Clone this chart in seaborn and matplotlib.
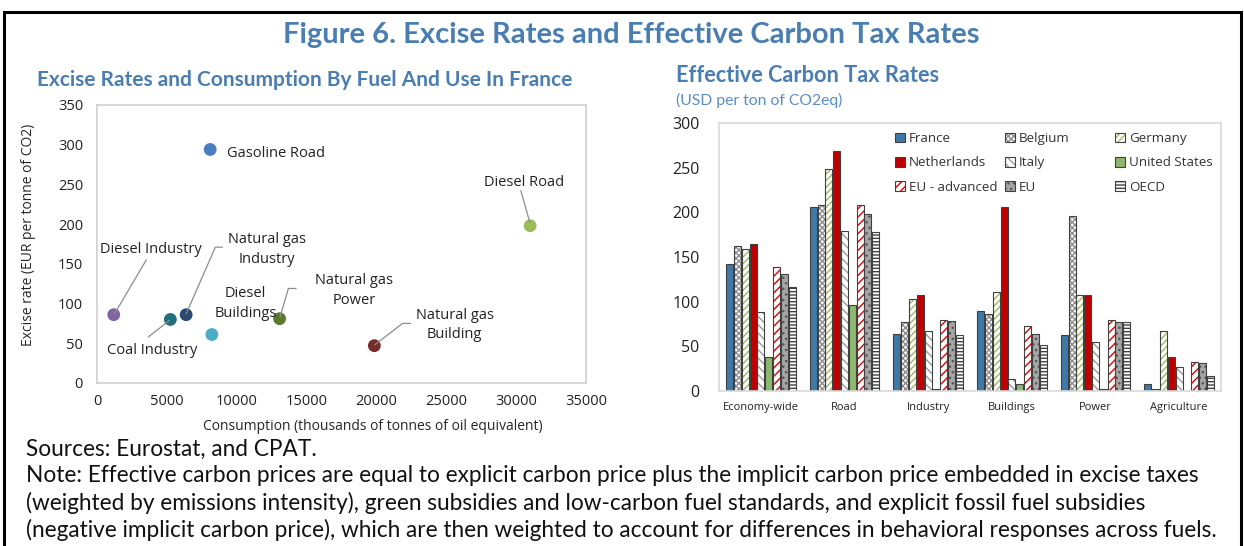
import matplotlib
matplotlib.use("Agg")
import matplotlib.pyplot as plt
from matplotlib.patches import Rectangle, Patch
from matplotlib.legend_handler import HandlerTuple
import seaborn as sns
import pandas as pd

# ---------------- data ----------------
fuels = ["Gasoline Road", "Diesel Road", "Diesel Industry", "Coal Industry",
         "Natural gas Industry", "Natural gas Power", "Diesel Buildings",
         "Natural gas Building"]
consumption = [8100, 31000, 1200, 5250, 6380, 8220, 13070, 19850]
excise = [294, 198, 86, 80, 86, 61, 81, 47]
fuel_colors = ["#4A7CC0", "#9BBB59", "#8064A2", "#20707C", "#2B4A73",
               "#4BACC6", "#5A7A2C", "#772B2A"]

sectors = ["Economy-wide", "Road", "Industry", "Buildings", "Power", "Agriculture"]
countries = ["France", "Belgium", "Germany", "Netherlands", "Italy",
             "United States", "EU - advanced", "EU", "OECD"]
france = [142, 206, 64, 90, 63, 8]
belgium = [162, 208, 77, 86, 196, 2]
germany = [159, 248, 103, 111, 107, 67]
netherlands = [165, 269, 107, 206, 107, 38]
italy = [88, 179, 67, 13, 55, 27]
united_states = [38, 96, 2, 8, 2, 0.5]
eu_advanced = [139, 208, 80, 73, 80, 33]
eu = [131, 198, 78, 64, 77, 31]
oecd = [116, 178, 63, 52, 77, 17]
series = [france, belgium, germany, netherlands, italy, united_states,
          eu_advanced, eu, oecd]

# ---------------- style ----------------
sns.set_style("white")
plt.rcParams["font.family"] = ["Lato", "DejaVu Sans"]
plt.rcParams["hatch.linewidth"] = 1.0
TITLE_C = "#4A7DB1"
SUB_C = "#5B8DC4"
DARK = "#404040"
OPEN = ["Open Sans", "DejaVu Sans"]

fig = plt.figure(figsize=(12.44, 5.46), dpi=100)

# ---------------- left scatter ----------------
axL = fig.add_axes([97/1244, 1-383/546, 489/1244, 278/546])
sdf = pd.DataFrame({"fuel": fuels, "cons": consumption, "rate": excise})
sns.scatterplot(data=sdf, x="cons", y="rate", hue="fuel", hue_order=fuels,
                palette=fuel_colors, s=85, linewidth=0, legend=False, ax=axL)
axL.set_xlim(0, 35000)
axL.set_ylim(0, 350)
axL.set_xticks(range(0, 35001, 5000))
axL.set_yticks(range(0, 351, 50))
for sp in axL.spines.values():
    sp.set_color("#D0D0D0")
    sp.set_linewidth(1.2)
axL.tick_params(axis="x", direction="in", length=4, color="#D0D0D0",
                labelsize=10.5, pad=8, labelcolor="#222222")
axL.tick_params(axis="y", length=0, labelsize=10.5, pad=10, labelcolor="#222222")
for t in axL.get_xticklabels() + axL.get_yticklabels():
    t.set_fontfamily(OPEN)
axL.set_xlabel("Consumption (thousands of tonnes of oil equivalent)",
               fontsize=10, family=OPEN, labelpad=2)
axL.xaxis.set_label_coords(0.565, -0.13)
axL.set_ylabel("Excise rate (EUR per tonne of CO2)", fontsize=10,
               family=OPEN, labelpad=4)
axL.yaxis.set_label_coords(-0.125, 0.532)

lab_kw = dict(fontsize=10.5, family=OPEN, color="#222222", linespacing=1.45)
# (text, x, y, ha)
labels = [
    ("Gasoline Road", 9300, 289, "left"),
    ("Diesel Road", 30570, 253, "center"),
    ("Diesel Industry", 3870, 168, "center"),
    ("Natural gas\nIndustry", 12150, 168, "center"),
    ("Diesel\nBuildings", 10650, 100, "center"),
    ("Natural gas\nPower", 18400, 117, "center"),
    ("Natural gas\nBuilding", 25600, 73, "center"),
    ("Coal Industry", 3950, 41, "center"),
]
for txt, x, y, ha in labels:
    axL.text(x, y, txt, ha=ha, va="center", **lab_kw)

leaders = [
    ([3530, 1250], [155, 87]),
    ([8980, 8470, 6380], [171, 171, 87]),
    ([3670, 5200], [58, 79]),
    ([14250, 13700, 13100], [119, 119, 83]),
    ([30340, 30980], [242, 202]),
    ([22450, 21870, 19880], [75, 75, 48]),
]
for xs, ys in leaders:
    axL.plot(xs, ys, color="#8C8C8C", lw=0.9, zorder=1)

# ---------------- right bars ----------------
axR = fig.add_axes([719/1244, 1-391/546, 502/1244, 268/546])
rows = []
for c, vals in zip(countries, series):
    for s, v in zip(sectors, vals):
        rows.append({"sector": s, "country": c, "rate": v})
bdf = pd.DataFrame(rows)
sns.barplot(data=bdf, x="sector", y="rate", hue="country", order=sectors,
            hue_order=countries, width=0.84, gap=0.1, legend=False, ax=axR)

styles = {
    "France": dict(fc="#3F79A6", hc=None, hatch=None),
    "Belgium": dict(fc="white", hc="#8C8C8C", hatch="xxxxxx"),
    "Germany": dict(fc="white", hc="#9BBB59", hatch="/////"),
    "Netherlands": dict(fc="#C00000", hc=None, hatch=None),
    "Italy": dict(fc="white", hc="#9A9A9A", hatch="\\\\\\\\"),
    "United States": dict(fc="#8DB86E", hc=None, hatch=None),
    "EU - advanced": dict(fc="white", hc="#E00000", hatch="////"),
    "EU": dict(fc="#A6A6A6", hc="#555555", hatch="..."),
    "OECD": dict(fc="white", hc="#404040", hatch="-----"),
}
for cont, c in zip(axR.containers, countries):
    st = styles[c]
    for p in cont.patches:
        if st["hatch"]:
            p.set_facecolor(st["fc"])
            p.set_edgecolor(st["hc"])
            p.set_hatch(st["hatch"])
            p.set_linewidth(0)
            axR.add_patch(Rectangle(p.get_xy(), p.get_width(), p.get_height(),
                                    fill=False, ec=DARK, lw=0.8, zorder=p.get_zorder()))
        else:
            p.set_facecolor(st["fc"])
            p.set_edgecolor(DARK)
            p.set_linewidth(0.8)

axR.set_ylim(0, 300)
axR.set_xlim(-0.5, 5.5)
axR.set_yticks(range(0, 301, 50))
axR.set_xlabel("")
axR.set_ylabel("")
for sp in axR.spines.values():
    sp.set_color("#D9D9D9")
    sp.set_linewidth(1.2)
axR.tick_params(axis="y", length=0, labelsize=11.5, pad=14, labelcolor="#222222")
axR.tick_params(axis="x", length=0, labelsize=8, pad=8, labelcolor="#222222")
axR.set_xticks(range(6), sectors)
for t in axR.get_xticklabels() + axR.get_yticklabels():
    t.set_fontfamily(OPEN)
axR.set_xticks([i + 0.5 for i in range(5)], minor=True)
axR.tick_params(axis="x", which="minor", direction="in", length=4, color="#D0D0D0")

handles = []
for c in countries:
    st = styles[c]
    if st["hatch"]:
        h = (Patch(facecolor=st["fc"], edgecolor=st["hc"], hatch=st["hatch"], lw=0),
             Patch(fill=False, edgecolor=DARK, lw=0.8))
    else:
        h = Patch(facecolor=st["fc"], edgecolor=DARK, lw=0.8)
    handles.append(h)

# three legend columns at fixed positions (row-major order in the reference)
col_x = [(895 - 719) / 502, (1005 - 719) / 502, (1115 - 719) / 502]
legs = []
for k in range(3):
    idx = [k, k + 3, k + 6]
    leg = axR.legend([handles[i] for i in idx], [countries[i] for i in idx],
                     ncol=1, loc="upper left", bbox_to_anchor=(col_x[k], 0.966),
                     frameon=False, handlelength=0.75, handleheight=0.75,
                     handletextpad=0.3, labelspacing=0.85, borderpad=0,
                     borderaxespad=0,
                     prop={"family": OPEN, "size": 9.6},
                     handler_map={tuple: HandlerTuple(ndivide=1)})
    for t in leg.get_texts():
        t.set_color("#333333")
    legs.append(leg)
for leg in legs[:-1]:
    axR.add_artist(leg)

# ---------------- titles & notes ----------------
fig.text(631/1244, 1-35/546, "Figure 6. Excise Rates and Effective Carbon Tax Rates",
         ha="center", va="center", fontsize=21, fontweight="bold", color=TITLE_C)
fig.text(305/1244, 1-80/546, "Excise Rates and Consumption By Fuel And Use In France",
         ha="center", va="center", fontsize=15, fontweight="bold", color=TITLE_C)
fig.text(676/1244, 1-75/546, "Effective Carbon Tax Rates",
         ha="left", va="center", fontsize=15.7, fontweight="bold", color=TITLE_C)
fig.text(676/1244, 1-100/546, "(USD per ton of CO2eq)",
         ha="left", va="center", fontsize=11.3, color=SUB_C)

note_lines = [
    "Sources: Eurostat, and CPAT.",
    "Note: Effective carbon prices are equal to explicit carbon price plus the implicit carbon price embedded in excise taxes",
    "(weighted by emissions intensity), green subsidies and low-carbon fuel standards, and explicit fossil fuel subsidies",
    "(negative implicit carbon price), which are then weighted to account for differences in behavioral responses across fuels.",
]
for i, line in enumerate(note_lines):
    fig.text(26/1244, 1-(449 + 27*i)/546, line, ha="left", va="center",
             fontsize=16.3, color="#111111")

# frame
fig.add_artist(Rectangle((4/1244, -0.05), 1237/1244, 1.05 - 12/546,
                         transform=fig.transFigure, fill=False, ec="black", lw=2.2))

fig.savefig("out.png", dpi=100)
